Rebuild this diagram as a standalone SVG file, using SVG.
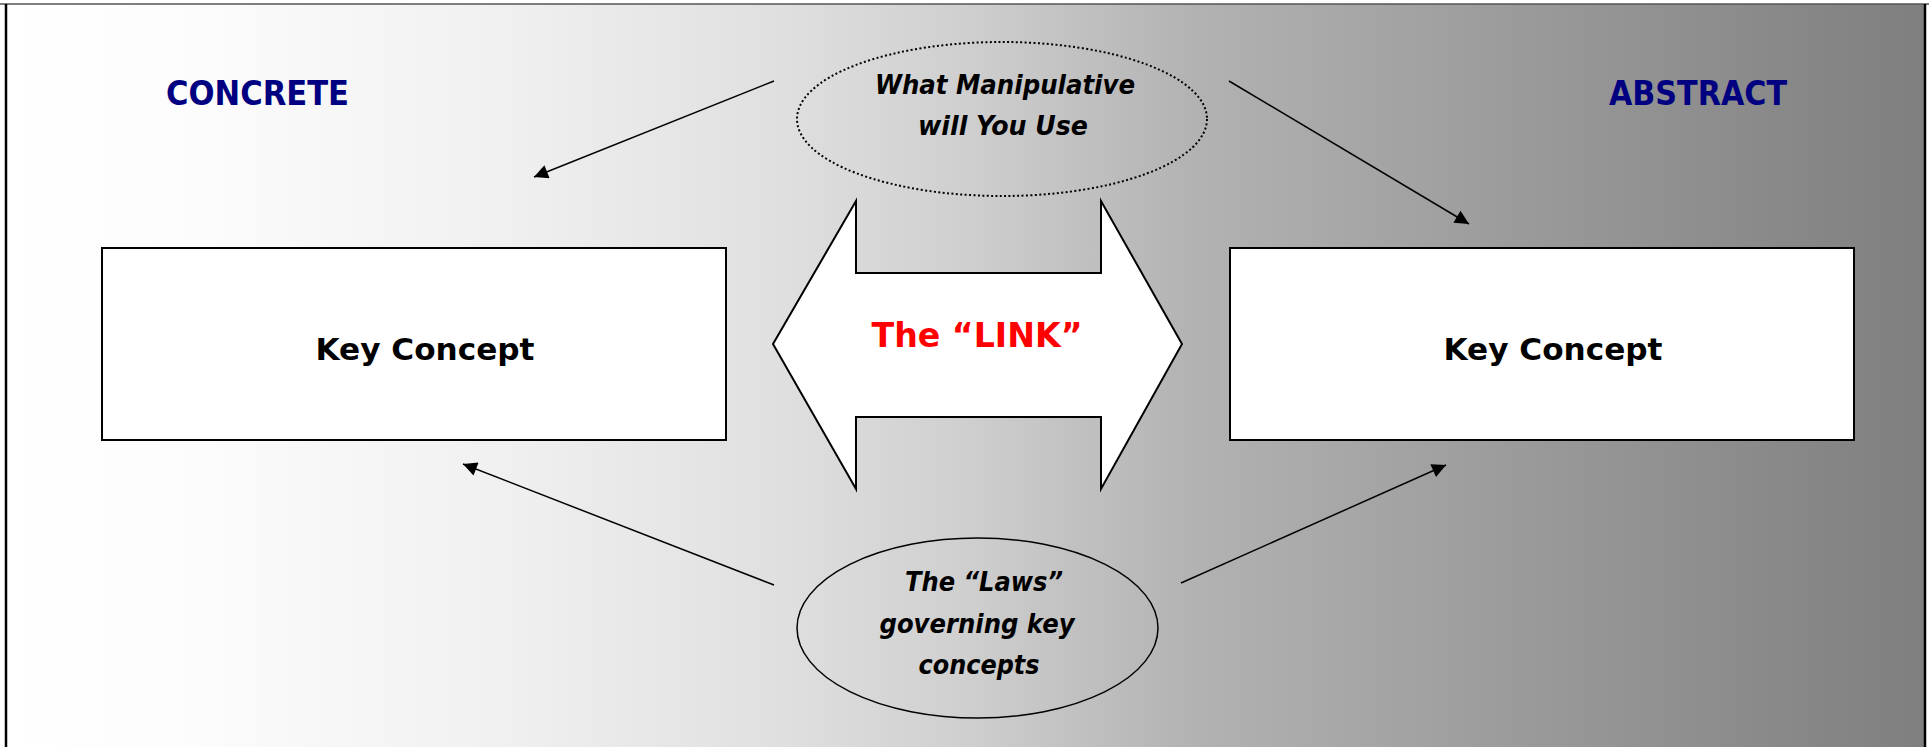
<svg xmlns="http://www.w3.org/2000/svg" width="1929" height="747" viewBox="0 0 1929 747">
  <defs>
    <linearGradient id="bg" x1="0" y1="0" x2="1" y2="0">
      <stop offset="0" stop-color="#ffffff"/>
      <stop offset="0.1" stop-color="#fcfcfc"/>
      <stop offset="0.26" stop-color="#f0f0f0"/>
      <stop offset="0.4" stop-color="#e0e0e0"/>
      <stop offset="0.5" stop-color="#cfcfcf"/>
      <stop offset="0.62" stop-color="#b2b2b2"/>
      <stop offset="0.8" stop-color="#999999"/>
      <stop offset="1" stop-color="#7f7f7f"/>
    </linearGradient>
    <marker id="ah" viewBox="0 0 10 10" refX="10" refY="5" markerWidth="18" markerHeight="14" markerUnits="userSpaceOnUse" orient="auto">
      <path d="M0,0 L10,5 L0,10 z" fill="#000"/>
    </marker>
    <style>
      .comic { font-family: "Comic Sans MS", "DejaVu Sans", sans-serif; font-weight: bold; }
      .ital { font-style: italic; }
      .title { font-family: "DejaVu Sans", "Liberation Sans", sans-serif; font-weight: bold; fill: #000080; font-size: 34px; }
      .box { fill: #ffffff; stroke: #000; stroke-width: 2; }
      .conn { stroke: #000; stroke-width: 1.5; fill: none; marker-end: url(#ah); }
    </style>
  </defs>

  <g id="background">
    <rect x="0" y="0" width="1929" height="747" fill="#ffffff"/>
    <rect x="6" y="4" width="1919" height="743" fill="url(#bg)"/>
    <line x1="0" y1="4" x2="1929" y2="4" stroke="#555" stroke-width="1.5"/>
    <line x1="6" y1="4" x2="6" y2="747" stroke="#000" stroke-width="2.5"/>
    <line x1="1925" y1="4" x2="1925" y2="747" stroke="#000" stroke-width="2.5"/>
  </g>

  <g id="label-concrete">
    <text class="title" x="166" y="105" textLength="183" lengthAdjust="spacingAndGlyphs">CONCRETE</text>
  </g>
  <g id="label-abstract">
    <text class="title" x="1609" y="105" textLength="178" lengthAdjust="spacingAndGlyphs">ABSTRACT</text>
  </g>

  <g id="connectors">
    <line class="conn" x1="774" y1="81" x2="534" y2="177"/>
    <line class="conn" x1="1229" y1="81" x2="1469" y2="224"/>
    <line class="conn" x1="774" y1="585" x2="463" y2="464"/>
    <line class="conn" x1="1181" y1="583" x2="1446" y2="465"/>
  </g>

  <g id="node-left-concept">
    <rect class="box" x="102" y="248" width="624" height="192"/>
    <text class="comic" x="425" y="360" font-size="31" text-anchor="middle" textLength="219" lengthAdjust="spacingAndGlyphs">Key Concept</text>
  </g>

  <g id="node-right-concept">
    <rect class="box" x="1230" y="248" width="624" height="192"/>
    <text class="comic" x="1553" y="360" font-size="31" text-anchor="middle" textLength="219" lengthAdjust="spacingAndGlyphs">Key Concept</text>
  </g>

  <g id="node-manipulative">
    <ellipse cx="1002" cy="119" rx="205" ry="77" fill="none" stroke="#000" stroke-width="2" stroke-dasharray="2 2.4"/>
    <text class="comic ital" x="1005" y="94" font-size="27" text-anchor="middle" textLength="260" lengthAdjust="spacingAndGlyphs">What Manipulative</text>
    <text class="comic ital" x="1003" y="135" font-size="27" text-anchor="middle" textLength="170" lengthAdjust="spacingAndGlyphs">will You Use</text>
  </g>

  <g id="node-link">
    <path d="M773,344 L856,201 L856,273 L1101,273 L1101,201 L1182,344 L1101,489 L1101,417 L856,417 L856,489 Z" fill="#ffffff" stroke="#000" stroke-width="2"/>
    <text class="comic" x="977" y="347" font-size="34" fill="#ff0000" text-anchor="middle" textLength="211" lengthAdjust="spacingAndGlyphs">The “LINK”</text>
  </g>

  <g id="node-laws">
    <ellipse cx="977.5" cy="628" rx="180.5" ry="90" fill="none" stroke="#000" stroke-width="1.5"/>
    <text class="comic ital" x="984" y="591" font-size="27" text-anchor="middle" textLength="158" lengthAdjust="spacingAndGlyphs">The “Laws”</text>
    <text class="comic ital" x="977" y="633" font-size="27" text-anchor="middle" textLength="195" lengthAdjust="spacingAndGlyphs">governing key</text>
    <text class="comic ital" x="979" y="674" font-size="27" text-anchor="middle" textLength="121" lengthAdjust="spacingAndGlyphs">concepts</text>
  </g>
</svg>
